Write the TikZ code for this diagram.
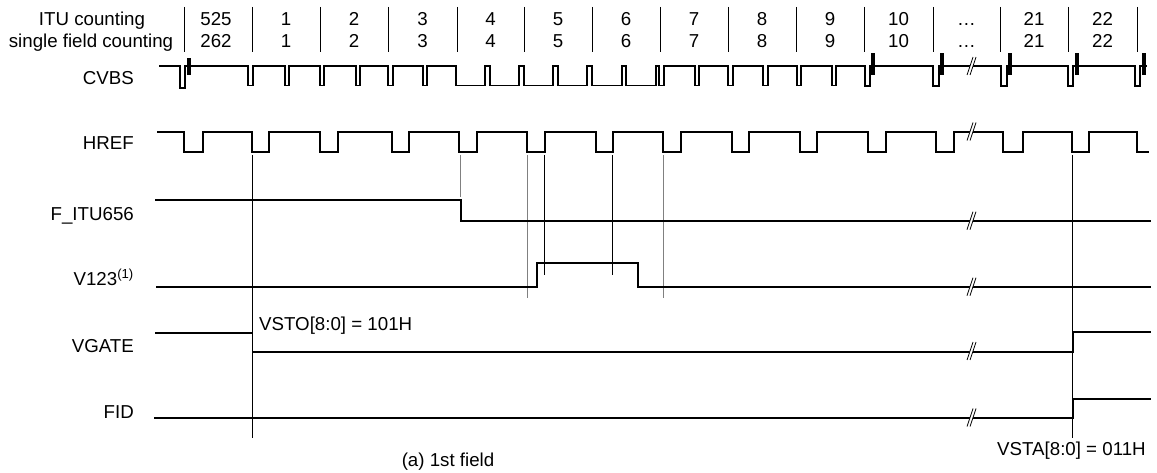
\documentclass[tikz,border=0pt]{standalone}
\usepackage{fontspec}
\setmainfont{Liberation Sans}
\newcommand\brkmark[2]{%
  \fill[white] ({#1-4},{#2+9}) -- ({#1+2},{#2-9}) -- ({#1+5},{#2-9}) -- ({#1-1},{#2+9}) -- cycle;
  \draw[guide,black] ({#1-4},{#2+9}) -- ({#1+2},{#2-9});
  \draw[guide,black] ({#1-1},{#2+9}) -- ({#1+5},{#2-9});}
\begin{document}
\begin{tikzpicture}[x=1pt,y=-1pt,
  txt/.style={inner sep=0pt,font=\fontsize{18.7}{22}\selectfont},
  sig/.style={line width=1.8pt,line join=miter,line cap=butt},
  guide/.style={line width=0.8pt},
  gguide/.style={line width=0.9pt,gray},
  sep/.style={line width=0.8pt},
  burst/.style={fill=black}]
\useasboundingbox (0,0) rectangle (1157,473);
% header
\node[txt,anchor=base] (hitu) at (92,26) {ITU counting};
\node[txt,anchor=base] (hsf) at (91,48) {single field counting};
\foreach \x in {184,252,320,388,457,524,592,660,728,796,864,933,1000,1068,1137}
  \draw[sep] (\x,7) -- (\x,52);
\foreach \x/\a/\b [count=\i] in {216/525/262,286/1/1,354/2/2,422.5/3/3,490.5/4/4,558/5/5,626/6/6,694/7/7,762/8/8,830/9/9,898.5/10/10,966.5/…/…,1034/21/21,1102.5/22/22}{
  \node[txt,anchor=base] (ta\i) at (\x,26) {\a};
  \node[txt,anchor=base] (tb\i) at (\x,48) {\b};
}
% signal labels
\node[txt,anchor=base east] (lcvbs) at (134,84.3) {CVBS};
\node[txt,anchor=base east] (lhref) at (134,150) {HREF};
\node[txt,anchor=base east] (lfitu) at (134,221) {F\_ITU656};
\node[txt,anchor=base east] (lv123) at (134,285) {V123\textsuperscript{(1)}};
\node[txt,anchor=base east] (lvgate) at (134,352) {VGATE};
\node[txt,anchor=base east] (lfid) at (134,418) {FID};
% guide lines
\draw[guide] (252.5,155) -- (252.5,438);
\draw[gguide] (460,155) -- (460,197);
\draw[gguide] (527,155) -- (527,298);
\draw[guide] (544.5,155) -- (544.5,275);
\draw[guide] (612,155) -- (612,275);
\draw[gguide] (663,155) -- (663,298);
\draw[guide] (1072.5,155) -- (1072.5,438);
% CVBS
\draw[sig] (159,66) -| (180,88) -| (185,66)
  -| (248,85.5) -| (253,66)
  -| (285,85.5) -| (289,66)
  -| (320,85.5) -| (324,66)
  -| (356,85.5) -| (360,66)
  -| (388,85.5) -| (393,66)
  -| (423,85.5) -| (427,66)
  -| (456,85.5) -| (485,66) -| (490,85.5) -| (519,66) -| (524,85.5) -| (553,66)
  -| (558,85.5) -| (587,66) -| (592,85.5) -| (622,66) -| (626,85.5) -| (656,66)
  -| (659,85.5) -| (664,66)
  -| (695,85.5) -| (699,66)
  -| (728,85.5) -| (733,66)
  -| (763,85.5) -| (768,66)
  -| (797,85.5) -| (801,66)
  -| (832,85.5) -| (836,66)
  -| (865,86) -| (870,66)
  -| (933,86) -| (939,66)
  -| (1001,86) -| (1007,66)
  -| (1068,86) -| (1073,66)
  -| (1135,86) -| (1140,66)
  -- (1147,66);
\fill[burst] (187,58) rectangle (191,75);
\foreach \x in {871,940,1008,1075,1142}
  \fill[burst] (\x,53) rectangle ({\x+4},75);
% HREF
\draw[sig] (157,131.7) -| (184,151.7) -| (203,131.7) -| (252,151.7) -| (269,131.7)
  -| (320,151.7) -| (338,131.7) -| (392,151.7) -| (409,131.7) -| (459,151.7) -| (477,131.7)
  -| (527,151.7) -| (545,131.7) -| (596,151.7) -| (613,131.7) -| (663,151.7) -| (681,131.7)
  -| (732,151.7) -| (749,131.7) -| (800,151.7) -| (817,131.7) -| (868,151.7) -| (886,131.7)
  -| (936,151.7) -| (954,131.7) -| (1003,151.7) -| (1023,131.7) -| (1072,151.7) -| (1089,131.7)
  -| (1137,151.7) -- (1149,151.7);
% F_ITU656
\draw[sig] (155,200) -| (461,220.7) -- (1150.7,220.7);
% V123
\draw[sig] (156,286.7) -| (536.7,262.7) -| (637.7,286.7) -- (1150.7,286.7);
% VGATE
\draw[sig] (155,333.3) -| (252.5,351.7) -| (1072.7,332.3) -- (1150.7,332.3);
% FID
\draw[sig] (154,417.7) -| (1072.7,399) -- (1150.7,399);
% break marks
\brkmark{971}{66}
\brkmark{971}{131.5}
\brkmark{971}{220.7}
\brkmark{971}{286.7}
\brkmark{971}{351}
\brkmark{971}{417.5}
% annotations
\node[txt,anchor=base west] (vsto) at (259,330) {VSTO[8:0] = 101H};
\node[txt,anchor=base west] (vsta) at (997,455.5) {VSTA[8:0] = 011H};
\node[txt,anchor=base] (cap) at (448,466) {(a) 1st field};
\end{tikzpicture}
\end{document}
